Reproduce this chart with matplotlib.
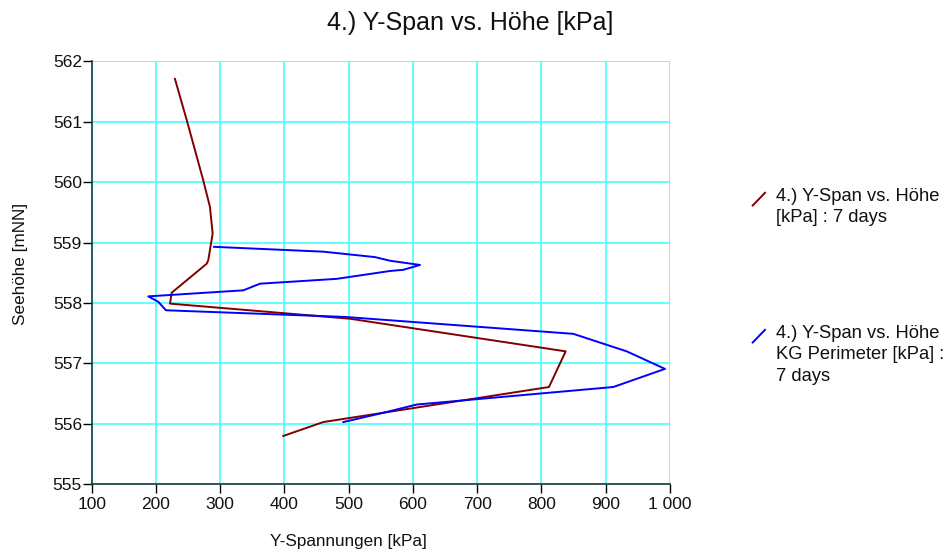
import matplotlib
matplotlib.use("Agg")
import matplotlib.pyplot as plt
from matplotlib.lines import Line2D
from matplotlib.ticker import FuncFormatter

plt.rcParams['font.family'] = ['Liberation Sans', 'DejaVu Sans']

# 7 days, "4.) Y-Span vs. Höhe [kPa]"
span_x = [229.6, 247.9, 273.7, 284.1, 288.3, 281.5, 279.0, 224.5, 221.9,
          502.0, 837.7, 811.7, 460.5, 398.2]
span_y = [561.71, 561.03, 560.03, 559.59, 559.15, 558.71, 558.65, 558.17,
          557.99, 557.74, 557.20, 556.61, 556.03, 555.80]

# 7 days, "KG Perimeter"
kg_x = [290.4, 460.5, 540.9, 564.3, 611.0, 585.0, 564.3, 481.3, 362.0,
        336.0, 188.1, 203.7, 215.6, 494.0, 849.6, 932.7, 992.3, 911.8,
        605.8, 548.7, 491.6]
kg_y = [558.93, 558.85, 558.76, 558.70, 558.63, 558.55, 558.53, 558.40,
        558.32, 558.21, 558.11, 558.02, 557.88, 557.77, 557.49, 557.20,
        556.91, 556.61, 556.32, 556.17, 556.03]

x_ticks = [100, 200, 300, 400, 500, 600, 700, 800, 900, 1000]
y_ticks = [555, 556, 557, 558, 559, 560, 561, 562]

red = "#800000"
blue = "#0000ff"
grid_c = "#44ffff"
spine_c = "#123c3c"

fig = plt.figure(figsize=(9.44, 5.55), dpi=100)
ax = fig.add_axes([0.0971, 0.1274, 0.6126, 0.7621])

ax.plot(span_x, span_y, color=red, lw=1.4)
ax.plot(kg_x, kg_y, color=blue, lw=1.4)

ax.set_xlim(100, 1000)
ax.set_ylim(555, 562)
ax.set_xticks(x_ticks)
ax.set_yticks(y_ticks)
ax.xaxis.set_major_formatter(FuncFormatter(lambda v, p: f"{int(v):,}".replace(",", " ")))
ax.grid(True, color=grid_c, lw=1.2)
ax.set_axisbelow(True)

for s in ("top", "right"):
    ax.spines[s].set_visible(False)
for s in ("left", "bottom"):
    ax.spines[s].set_color(spine_c)
    ax.spines[s].set_linewidth(1.2)

ax.tick_params(axis="both", direction="out", length=6.5, width=1,
               color="black", labelsize=12.5, labelcolor="#111111")
ax.tick_params(axis="x", pad=3)
ax.tick_params(axis="y", pad=0.5)

W, H = 944, 555
fig.text(0.498, 0.958, "4.) Y-Span vs. Höhe [kPa]", ha="center", va="center",
         fontsize=18, color="#111111")
fig.text(0.369, 0.025, "Y-Spannungen [kPa]", ha="center", va="center",
         fontsize=12.3, color="#111111")
fig.text(21 / W, 1 - 264 / H, "Seehöhe [mNN]", ha="center", va="center",
         rotation=90, fontsize=12.3, color="#111111")

# legend entries drawn by hand at the right
legend_items = [
    (red, "4.) Y-Span vs. Höhe\n[kPa] : 7 days", 199),
    (blue, "4.) Y-Span vs. Höhe\nKG Perimeter [kPa] :\n7 days", 336),
]
for col, txt, ymid in legend_items:
    fig.add_artist(Line2D([752.7 / W, 765 / W],
                          [1 - (ymid + 6.5) / H, 1 - (ymid - 6.2) / H],
                          color=col, lw=1.4))
    fig.text(776.5 / W, 1 - (ymid - 11) / H, txt, ha="left", va="top",
             fontsize=13.2, color="#111111", linespacing=1.33)

fig.savefig("out.png", dpi=100)
